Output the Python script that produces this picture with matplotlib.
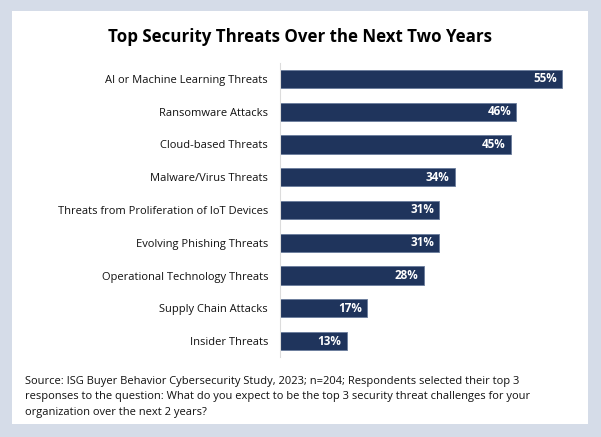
import matplotlib
matplotlib.use("Agg")
import matplotlib.pyplot as plt
from matplotlib.patches import Rectangle

categories = ["AI or Machine Learning Threats", "Ransomware Attacks", "Cloud-based Threats",
              "Malware/Virus Threats", "Threats from Proliferation of IoT Devices",
              "Evolving Phishing Threats", "Operational Technology Threats",
              "Supply Chain Attacks", "Insider Threats"]
values = [55, 46, 45, 34, 31, 31, 28, 17, 13]
value_labels = ["55%", "46%", "45%", "34%", "31%", "31%", "28%", "17%", "13%"]

title = "Top Security Threats Over the Next Two Years"
source = ("Source: ISG Buyer Behavior Cybersecurity Study, 2023; n=204; Respondents selected their top 3\n"
          "responses to the question: What do you expect to be the top 3 security threat challenges for your\n"
          "organization over the next 2 years?")

plt.rcParams['font.family'] = ['Open Sans', 'DejaVu Sans']

W, H = 601, 437
fig = plt.figure(figsize=(W/100, H/100), dpi=100)
fig.patch.set_facecolor("#d5dce8")
fig.patches.append(Rectangle((12/W, 1-424/H), 576/W, 413/H, transform=fig.transFigure,
                             facecolor="white", edgecolor="none", zorder=-10))

ax = fig.add_axes([280/W, 1-357.4/H, 308/W, 294.8/H])
ax.set_facecolor("none")
bar_color = "#1f345c"
ypos = list(range(len(categories)))
ax.barh(ypos, values, height=0.56, color=bar_color, edgecolor="#6a7c9c", linewidth=0.6)
ax.set_xlim(0, 60)
ax.set_ylim(len(categories)-0.5, -0.5)
ax.set_yticks(ypos)
ax.set_yticklabels(categories, fontsize=8, color="#111111")
ax.tick_params(axis='y', length=0, pad=8.6)
ax.set_xticks([])
for s in ["top", "right", "bottom"]:
    ax.spines[s].set_visible(False)
ax.spines["left"].set_color("#dcdcdc")
ax.spines["left"].set_linewidth(0.8)

for y, v, lab in zip(ypos, values, value_labels):
    ax.text(v - 1.0, y, lab, ha="right", va="center", color="white",
            fontsize=8.4, fontweight="bold")

fig.text(300/W, 1-37/H, title, ha="center", va="center", fontsize=12.2,
         fontweight="bold", color="black")
fig.text(25/W, 1-376/H, source, ha="left", va="top", fontsize=8.0,
         color="#111111", linespacing=1.55)

fig.savefig("out.png", dpi=100, facecolor=fig.get_facecolor())
